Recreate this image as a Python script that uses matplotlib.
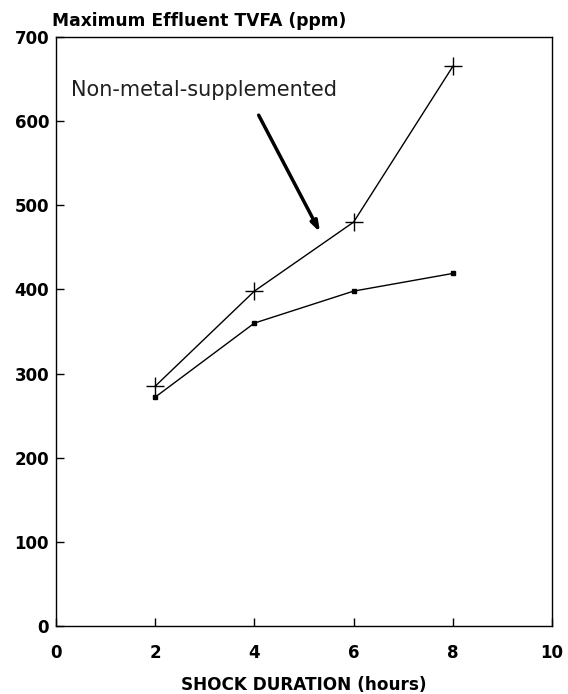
import matplotlib
matplotlib.use("Agg")
import matplotlib.pyplot as plt

hours = [2, 4, 6, 8]
non_metal = [285, 398, 480, 665]
metal = [272, 360, 398, 419]
xticks = [0, 2, 4, 6, 8, 10]
yticks = [0, 100, 200, 300, 400, 500, 600, 700]

plt.rcParams['font.family'] = ['DejaVu Sans']

fig = plt.figure(figsize=(5.68, 6.94), dpi=100)
ax = fig.add_axes([56/568, 68/694, 496/568, 589/694])

ax.plot(hours, non_metal, color='black', lw=1.0, marker='+', ms=13, mew=1.0)
ax.plot(hours, metal, color='black', lw=1.0, marker='s', ms=3.5)

ax.set_xlim(0, 10)
ax.set_ylim(0, 700)
ax.set_xticks(xticks)
ax.set_yticks(yticks)
ax.set_xticklabels([str(v) for v in xticks], fontweight='bold', fontsize=12)
ax.set_yticklabels([str(v) for v in yticks], fontweight='bold', fontsize=12)
ax.tick_params(direction='in', length=6, width=1)
ax.tick_params(axis='x', pad=13)
ax.tick_params(axis='y', pad=5)
for s in ax.spines.values():
    s.set_linewidth(1.0)

ax.annotate('', xy=(5.35, 465), xytext=(4.06, 610),
            arrowprops=dict(arrowstyle='-|>,head_length=0.6,head_width=0.2', lw=2.5, color='black'))
ax.text(0.3, 637, 'Non-metal-supplemented', fontsize=15, ha='left', va='center',
        family=['DejaVu Sans'], fontweight='normal', color='#202020')

fig.text(52/568, 1 - 21/694, 'Maximum Effluent TVFA (ppm)', fontsize=12.3, fontweight='bold',
         ha='left', va='center')
fig.text(304/568, 1 - 685/694, 'SHOCK DURATION (hours)', fontsize=12.2, fontweight='bold',
         ha='center', va='center')

fig.savefig('out.png', dpi=100)
